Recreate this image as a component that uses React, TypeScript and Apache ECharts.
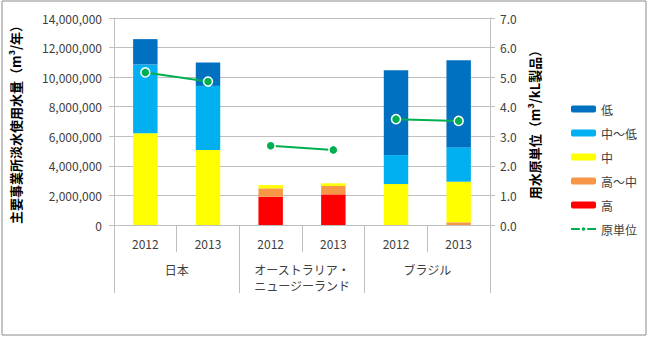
import React, { useEffect, useRef } from "react";
import * as echarts from "echarts";

const years = ["2012", "2013", "2012", "2013", "2012", "2013"];
const groups = ["日本", "オーストラリア・\nニュージーランド", "ブラジル"];
const high = [0, 0, 1910000, 2070000, 0, 0];
const highMid = [0, 0, 570000, 570000, 0, 180000];
const mid = [6200000, 5070000, 220000, 180000, 2770000, 2750000];
const midLow = [4660000, 4340000, 0, 0, 1960000, 2320000];
const low = [1710000, 1580000, 0, 0, 5740000, 5900000];
const intensity = [5.16, 4.85, 2.68, 2.54, 3.58, 3.52];
const leftTicks = [0, 2000000, 4000000, 6000000, 8000000, 10000000, 12000000, 14000000];

const FONT = "'Noto Sans CJK JP', 'Noto Sans', sans-serif";

export default function App() {
  const ref = useRef<HTMLDivElement>(null);
  useEffect(() => {
    const chart = echarts.init(ref.current!, null, { renderer: "svg" });
    const lineSeg = (i: number) =>
      intensity.map((v, k) => (k === i || k === i + 1 ? v : null));
    const lineSeries = [0, 2, 4].map((i) => ({
      name: "原単位",
      type: "line",
      xAxisIndex: 0,
      yAxisIndex: 1,
      data: lineSeg(i),
      symbol: "circle",
      symbolSize: 9,
      lineStyle: { color: "#00b050", width: 2 },
      itemStyle: { color: "#00b050", borderColor: "#ffffff", borderWidth: 1.5 },
      z: 5,
    }));
    const bar = (name: string, data: number[], color: string) => ({
      name,
      type: "bar",
      stack: "w",
      xAxisIndex: 0,
      yAxisIndex: 0,
      data,
      barWidth: "39%",
      itemStyle: { color },
    });
    chart.setOption({
      animation: false,
      textStyle: { fontFamily: FONT },
      graphic: [
        {
          type: "rect",
          shape: { x: 2, y: 1, width: 644, height: 334 },
          style: { fill: "none", stroke: "#8c8c8c", lineWidth: 1 },
          silent: true,
        },
      ],
      grid: { left: 114, right: 159, top: 18, bottom: 113 },
      legend: {
        orient: "vertical",
        left: 565,
        top: 98,
        itemWidth: 25,
        itemHeight: 7,
        itemGap: 12,
        textStyle: { fontSize: 12, color: "#404040", fontFamily: FONT },
        data: ["低", "中〜低", "中", "高〜中", "高", "原単位"],
      },
      xAxis: [
        {
          type: "category",
          data: years,
          position: "bottom",
          axisLine: { lineStyle: { color: "#bfbfbf" } },
          axisTick: { show: true, interval: 0, length: 27, lineStyle: { color: "#bfbfbf" } },
          axisLabel: { interval: 0, margin: 12, fontSize: 12, color: "#404040", fontFamily: FONT },
        },
        {
          type: "category",
          data: groups,
          position: "bottom",
          axisLine: { show: false },
          axisTick: { show: true, interval: 0, length: 68, lineStyle: { color: "#bfbfbf" } },
          axisLabel: { interval: 0, margin: 36, fontSize: 12, lineHeight: 16, color: "#404040", fontFamily: FONT },
        },
      ],
      yAxis: [
        {
          type: "value",
          min: 0,
          max: 14000000,
          interval: 2000000,
          name: "主要事業所淡水使用水量（m³/年）",
          nameLocation: "middle",
          nameGap: 92,
          nameTextStyle: { fontSize: 13, fontWeight: "bold", color: "#000", fontFamily: FONT },
          axisLine: { show: true, lineStyle: { color: "#bfbfbf" } },
          axisTick: { show: true, length: 5, lineStyle: { color: "#bfbfbf" } },
          axisLabel: {
            fontSize: 12,
            color: "#404040",
            margin: 12,
            formatter: (v: number) => (leftTicks.includes(v) ? v.toLocaleString("en-US") : ""),
          },
          splitLine: { lineStyle: { color: "#bfbfbf" } },
        },
        {
          type: "value",
          min: 0,
          max: 7,
          interval: 1,
          name: "用水原単位（m³/kL製品）",
          nameLocation: "middle",
          nameGap: 38,
          nameRotate: 90,
          nameTextStyle: { fontSize: 13, fontWeight: "bold", color: "#000", fontFamily: FONT },
          axisLine: { show: true, lineStyle: { color: "#bfbfbf" } },
          axisTick: { show: true, length: 5, lineStyle: { color: "#bfbfbf" } },
          axisLabel: { fontSize: 12, color: "#404040", margin: 10, formatter: (v: number) => v.toFixed(1) },
          splitLine: { show: false },
        },
      ],
      series: [
        bar("高", high, "#ff0000"),
        bar("高〜中", highMid, "#f79646"),
        bar("中", mid, "#ffff00"),
        bar("中〜低", midLow, "#00b0f0"),
        bar("低", low, "#0070c0"),
        ...lineSeries,
      ],
    });
    return () => chart.dispose();
  }, []);
  return (
    <div
      ref={ref}
      style={{ position: "absolute", left: 0, top: 0, width: 649, height: 338, background: "#fff" }}
    />
  );
}
